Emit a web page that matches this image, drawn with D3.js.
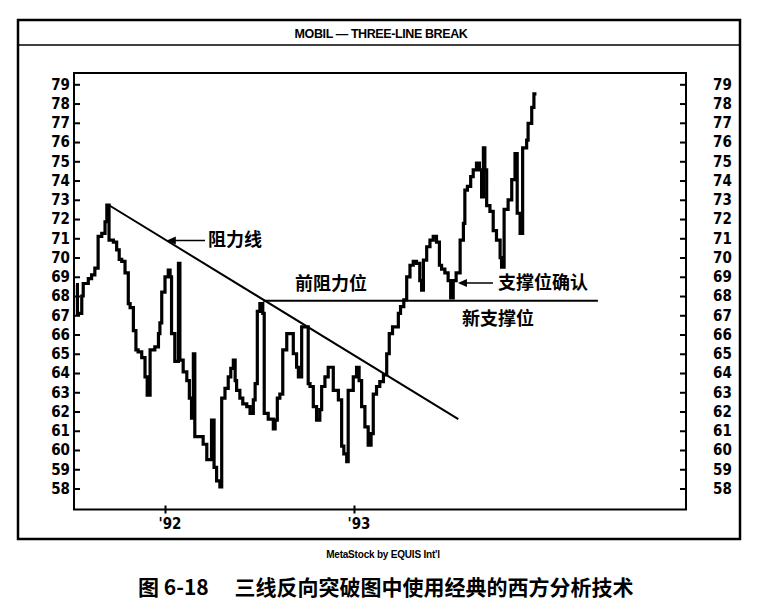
<!DOCTYPE html>
<html>
<head>
<meta charset="utf-8">
<script src="https://cdn.jsdelivr.net/npm/d3@7"></script>
<style>
  body { margin: 0; background: #fff; }
  svg { display: block; }
  .tick text { font-family: "Liberation Sans Narrow", "DejaVu Sans Condensed", "Liberation Sans", sans-serif; font-weight: bold; font-size: 15px; fill: #000; }
  .tick line { stroke: #000; stroke-width: 2; }
  .note { font-family: "Noto Sans CJK SC", sans-serif; font-weight: bold; font-size: 18px; fill: #000; }
</style>
</head>
<body>
<div id="chart"></div>
<script>
// weeks counted from 1 Jan 1991, weekly close of the three-line break trace
var weeks = [27.5, 27.9, 29.1, 29.5, 30.9, 31.8, 32.7, 33.6, 34.6, 35.5, 36.0, 36.6, 37.8, 38.7, 39.4, 40.1,
  41.0, 41.9, 42.4, 43.3, 44.0, 44.6, 45.6, 46.5, 47.1, 47.9, 49.2, 50.2, 50.6, 51.1, 52.0, 52.9,
  53.4, 53.8, 54.7, 55.7, 56.1, 57.0, 58.0, 58.7, 59.3, 59.8, 60.2, 62.5, 63.5, 64.8, 65.5, 66.2,
  67.1, 67.6, 68.5, 69.4, 70.1, 70.8, 71.3, 71.7, 72.6, 73.4, 74.5, 75.4, 76.3, 76.8, 77.4, 78.1,
  78.9, 79.3, 80.4, 81.8, 82.3, 82.9, 83.6, 84.4, 85.5, 87.3, 88.2, 88.7, 89.6, 91.4, 91.9, 92.8,
  93.7, 94.6, 95.1, 96.0, 96.9, 98.3, 99.7, 100.6, 101.2, 102.0, 102.4, 103.8, 104.7, 105.4, 106.1, 107.0,
  107.9, 108.7, 109.3, 110.2, 111.1, 112.1, 113.0, 113.7, 114.6, 116.2, 116.8, 117.7, 118.5, 119.4, 120.3, 121.2,
  122.1, 122.6, 123.1, 124.0, 124.9, 125.8, 126.7, 127.5, 128.1, 129.0, 129.9, 130.6, 131.3, 132.1, 133.2, 134.1,
  134.5, 135.2, 136.1, 136.8, 137.7, 138.5, 139.1, 139.6, 140.0, 140.5, 141.4, 142.3, 143.2, 144.2, 144.6, 145.3,
  146.4, 147.4, 148.3, 148.9, 149.7, 150.4, 151.5, 151.9, 152.9, 153.5, 154.2];

var closes = [68.6, 67.1, 68.0, 68.65, 68.9, 69.1, 69.45, 71.1, 71.25, 71.86, 72.73, 70.9, 70.8, 70.4, 69.9, 69.8,
  69.2, 67.6, 67.4, 66.2, 65.2, 65.1, 64.8, 63.8, 62.85, 65.2, 65.36, 66.05, 66.6, 68.2, 69.0, 69.35,
  69.0, 66.05, 64.6, 69.7, 64.67, 64.06, 63.6, 62.7, 61.65, 65.0, 60.7, 60.3, 59.5, 61.55, 59.1, 58.4,
  58.08, 62.7, 63.2, 63.8, 64.24, 64.67, 63.6, 63.1, 62.7, 62.4, 62.25, 61.9, 62.6, 63.45, 67.2, 67.6,
  67.1, 61.9, 61.6, 61.1, 61.55, 62.7, 62.9, 65.2, 66.05, 65.0, 64.3, 63.8, 66.4, 63.45, 63.3, 62.25,
  61.55, 62.1, 63.3, 63.8, 64.3, 63.1, 62.6, 60.2, 59.8, 59.4, 63.1, 63.8, 64.3, 63.6, 62.25, 61.2,
  60.25, 60.85, 62.9, 63.3, 63.55, 63.9, 65.0, 66.05, 66.4, 67.1, 67.45, 67.8, 69.0, 69.6, 69.8, 69.7,
  68.8, 68.3, 69.87, 70.56, 70.9, 71.1, 70.8, 69.6, 69.4, 69.2, 68.8, 67.9, 68.8, 69.2, 70.9, 71.77,
  73.5, 73.7, 74.2, 74.55, 74.9, 74.55, 73.15, 75.7, 74.55, 72.7, 72.4, 71.4, 70.9, 70.0, 69.5, 72.5,
  73.0, 74.05, 75.4, 72.3, 71.25, 75.7, 76.1, 76.97, 77.8, 78.5, 78.5];

var priceTicks = d3.range(58, 80);
var yearWeeks = [52, 104];
var yearLabels = ["'92", "'93"];

// resistance trend line and the old resistance / new support level
var resistWeeks = [36.5, 132.7];
var resistPrices = [72.73, 61.6];
var supportWeeks = [79.0, 171.1];
var supportPrice = 67.75;

var width = 764, height = 616;
var frame = { left: 18, top: 20, right: 740, bottom: 539, titleLine: 45 };
var plot = { left: 74, top: 73, right: 686, bottom: 509.5 };

var svg = d3.select("#chart").append("svg")
  .attr("width", width)
  .attr("height", height);

// outer frame and title band
svg.append("rect")
  .attr("x", frame.left).attr("y", frame.top)
  .attr("width", frame.right - frame.left).attr("height", frame.bottom - frame.top)
  .attr("fill", "none").attr("stroke", "#000").attr("stroke-width", 2.5);

svg.append("line")
  .attr("x1", frame.left).attr("x2", frame.right)
  .attr("y1", frame.titleLine).attr("y2", frame.titleLine)
  .attr("stroke", "#000").attr("stroke-width", 1.5);

svg.append("text")
  .attr("x", (frame.left + frame.right) / 2 + 2)
  .attr("y", 37.5)
  .attr("text-anchor", "middle")
  .style("font-family", "Liberation Sans, Arial, sans-serif")
  .style("font-weight", "bold")
  .style("font-size", "12.5px")
  .style("letter-spacing", "-0.4px")
  .text("MOBIL \u2014 THREE-LINE BREAK");

// scales
var x = d3.scaleLinear().domain(yearWeeks).range([165, 354]);
var y = d3.scaleLinear().domain([58, 79]).range([488.5, 84.3]);

// axes
svg.append("g")
  .attr("transform", `translate(${plot.left},0)`)
  .call(d3.axisLeft(y).tickValues(priceTicks).tickSize(-6).tickPadding(4).tickFormat(d3.format("d")))
  .call(g => g.select(".domain").remove());

svg.append("g")
  .attr("transform", `translate(${plot.right},0)`)
  .call(d3.axisRight(y).tickValues(priceTicks).tickSize(-6).tickPadding(27).tickFormat(d3.format("d")))
  .call(g => g.select(".domain").remove());

var xAxis = svg.append("g")
  .attr("transform", `translate(0,${plot.bottom})`)
  .call(d3.axisBottom(x).tickValues(yearWeeks).tickSize(4).tickPadding(5)
    .tickFormat((d, i) => yearLabels[i]))
  .call(g => g.select(".domain").remove());
xAxis.selectAll(".tick line").attr("y1", -4).attr("stroke-width", 1.5);
xAxis.selectAll(".tick text").attr("text-anchor", "start").attr("dx", -7);

// plot frame
svg.append("rect")
  .attr("x", plot.left).attr("y", plot.top)
  .attr("width", plot.right - plot.left).attr("height", plot.bottom - plot.top)
  .attr("fill", "none").attr("stroke", "#000").attr("stroke-width", 2);

// price trace
var series = weeks.map((w, i) => ({ w: w, v: closes[i] }));
var line = d3.line()
  .x(d => x(d.w))
  .y(d => y(d.v))
  .curve(d3.curveStepAfter);

svg.append("path")
  .datum(series)
  .attr("d", line)
  .attr("fill", "none")
  .attr("stroke", "#000")
  .attr("stroke-width", 3.2)
  .attr("stroke-linejoin", "miter");

// trend line
svg.append("line")
  .attr("x1", x(resistWeeks[0])).attr("y1", y(resistPrices[0]))
  .attr("x2", x(resistWeeks[1])).attr("y2", y(resistPrices[1]))
  .attr("stroke", "#000").attr("stroke-width", 2);

// support line
svg.append("line")
  .attr("x1", x(supportWeeks[0])).attr("y1", y(supportPrice))
  .attr("x2", x(supportWeeks[1])).attr("y2", y(supportPrice))
  .attr("stroke", "#000").attr("stroke-width", 2);

// arrow helper
function arrow(x1, y1, x2, y2) {
  svg.append("line")
    .attr("x1", x1).attr("y1", y1).attr("x2", x2 + 6).attr("y2", y2)
    .attr("stroke", "#000").attr("stroke-width", 1.5);
  svg.append("path")
    .attr("d", `M${x2},${y2} L${x2 + 9},${y2 - 4} L${x2 + 9},${y2 + 4} Z`)
    .attr("fill", "#000");
}

// resistance label
var trendAt = w => resistPrices[0] + (w - resistWeeks[0]) *
  (resistPrices[1] - resistPrices[0]) / (resistWeeks[1] - resistWeeks[0]);
arrow(205, y(trendAt(52.5)), x(52.5), y(trendAt(52.5)));
svg.append("text").attr("class", "note").attr("x", 208).attr("y", 246).text("阻力线");

svg.append("text").attr("class", "note").attr("x", 295).attr("y", 290).text("前阻力位");

arrow(493, 283, x(132.6), 283);
svg.append("text").attr("class", "note").attr("x", 498).attr("y", 289).text("支撑位确认");

svg.append("text").attr("class", "note").attr("x", 462).attr("y", 325).text("新支撑位");

// credits and caption
svg.append("text")
  .attr("x", 383).attr("y", 558)
  .attr("text-anchor", "middle")
  .style("font-family", "Liberation Sans, Arial, sans-serif")
  .style("font-weight", "bold")
  .style("font-size", "10px")
  .style("letter-spacing", "-0.2px")
  .text("MetaStock by EQUIS Int'l");

svg.append("text")
  .attr("x", 138).attr("y", 595)
  .style("font-family", "Noto Sans CJK SC, sans-serif")
  .style("font-weight", "bold")
  .style("font-size", "21px")
  .attr("xml:space", "preserve")
  .text("图 6-18\u3000 三线反向突破图中使用经典的西方分析技术");
</script>
</body>
</html>
